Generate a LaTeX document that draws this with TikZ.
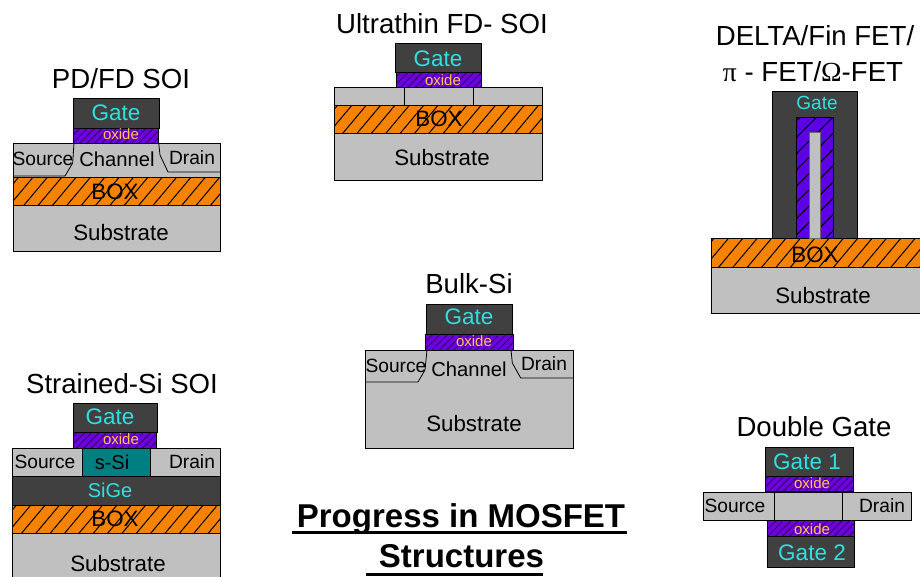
\documentclass[tikz,border=0pt]{standalone}
\usepackage{fontspec}
\setmainfont{Liberation Sans}
\newfontfamily\greekfont{Liberation Serif}
\usetikzlibrary{patterns.meta}
\newcommand{\fsz}[1]{\fontsize{#1}{#1}\selectfont}
\definecolor{gatedark}{HTML}{404040}
\definecolor{gatecyan}{HTML}{2FE0E0}
\definecolor{oxpurple}{HTML}{6E00E0}
\definecolor{oxyellow}{HTML}{FFC84A}
\definecolor{boxorange}{HTML}{F58200}
\definecolor{sigray}{HTML}{C0C0C0}
\definecolor{siteal}{HTML}{007F80}
\tikzset{
  every node/.style={inner sep=0pt},
  gatelayer/.style={draw=black,line width=.8pt,fill=gatedark},
  silayer/.style={draw=black,line width=.8pt,fill=sigray},
  oxlayer/.style={draw=black,line width=.8pt,preaction={fill=oxpurple},pattern={Lines[angle=45,distance=5.2pt,line width=.9pt]},pattern color=black!55!oxpurple},
  finox/.style={draw=black,line width=.8pt,preaction={fill=oxpurple!85!blue},pattern={Lines[angle=45,distance=11.5pt,line width=1pt]}},
  boxlayer/.style={draw=black,line width=.9pt,preaction={fill=boxorange},pattern={Lines[angle=50,distance=11pt,line width=1pt]}},
  junction/.style={draw=black,line width=.8pt},
  titletext/.style={font=\fsz{27.6}},
  headtext/.style={anchor=base,font=\bfseries\fsz{33}},
  headrule/.style={draw=black,line width=3pt},
  gatetext/.style={text=gatecyan,font=\fsz{22.5}},
  oxtext/.style={text=oxyellow,font=\fsz{15}},
  subtext/.style={font=\fsz{22.3}},
  sdtext/.style={font=\fsz{19.2}},
  chantext/.style={font=\fsz{20.2}},
}
\begin{document}
\begin{tikzpicture}[x=1pt,y=-1pt]
\useasboundingbox (0,0) rectangle (920,576);
\clip (0,0) rectangle (920,576);
% silicon and substrate
\foreach \xa/\xb/\ya/\yb in {13/220/143/177,13/220/205/251,334/542/87/105,334/542/133/180,711/925/267/313,365/573/350/448,12/220/448/476,12/220/533/585,703/911/492/520}
  \draw[silayer] (\xa,\ya) rectangle (\xb,\yb);
% buried oxide
\foreach \xa/\xb/\ya/\yb in {13/220/177/205,334/542/105/133,711/925/238/267,12/220/505/533}
  \draw[boxlayer] (\xa,\ya) rectangle (\xb,\yb);
% gates
\foreach \xa/\xb/\ya/\yb in {73/159/98/128,395/481/43/72,772/857/91/238,426/512/304/334,73/157/403/432,765/853/447/476,767/854/536/567}
  \draw[gatelayer] (\xa,\ya) rectangle (\xb,\yb);
% gate oxide
\foreach \xa/\xb/\ya/\yb in {73/158/128/143,396/481/72/87,425/513/334/350,73/156/432/448,765/853/476/491,767/854/520/536}
  \draw[oxlayer] (\xa,\ya) rectangle (\xb,\yb);
% fin
\draw[finox] (796,117) rectangle (833,238);
\draw[silayer,draw=black!60] (809,132) rectangle (820,238);
% strained layers
\draw[gatelayer] (12,476) rectangle (220,505);
\draw[draw=black,line width=.8pt,fill=siteal] (82,448) rectangle (150.5,476);
% source and drain junctions
\draw[junction] (74,143)--(72.7,163)--(65,176)--(13,176);
\draw[junction] (158.7,143)--(160,155)--(168,172)--(220,172);
\draw[junction] (427,350)--(425,370)--(418,382)--(365,382);
\draw[junction] (511,350)--(512.3,363)--(520.7,378)--(573,378);
\foreach \x/\ya/\yb in {404/87/105,473/87/105,774/492/520,842/492/520}
  \draw[junction] (\x,\ya)--(\x,\yb);
% titles
\node[titletext] (pdtitle) at (121,79) {PD/FD SOI};
\node[titletext] (uttitle) at (442,24) {Ultrathin FD- SOI};
\node[titletext] (fintitlea) at (815,36) {DELTA/Fin FET/};
\node[titletext] (fintitleb) at (813,72) {{\greekfont π} - FET/{\greekfont Ω}-FET};
\node[titletext] (bulktitle) at (469,284) {Bulk-Si};
\node[titletext] (sstitle) at (122,384) {Strained-Si SOI};
\node[titletext] (dgtitle) at (814,427) {Double Gate};
% gate and oxide labels
\foreach \n/\x/\y in {pd/116/113,ut/438/59,bulk/469/317,ss/110/417}
  \node[gatetext] (gate\n) at (\x,\y) {Gate};
\node[gatetext,font=\fsz{19}] (gatefin) at (817,103) {Gate};
\node[gatetext] (gatedga) at (807,462) {Gate 1};
\node[gatetext] (gatedgb) at (812,553) {Gate 2};
\foreach \n/\x/\y in {pd/121/134,ut/443/80,bulk/474/341,ss/121/439,dga/812/483,dgb/812/529}
  \node[oxtext] (ox\n) at (\x,\y) {oxide};
% layer labels
\foreach \n/\x/\y in {pd/115/192,ut/439/119,fin/815/255,ss/115/519}
  \node[subtext] (box\n) at (\x,\y) {BOX};
\foreach \n/\x/\y in {pd/121/233,ut/442/158,fin/823/296,bulk/474/424,ss/118/564}
  \node[subtext] (sub\n) at (\x,\y) {Substrate};
\foreach \n/\x/\y in {pd/43/159,bulk/396/366,ss/45/462,dg/735/506}
  \node[sdtext] (src\n) at (\x,\y) {Source};
\foreach \n/\x/\y in {pd/192/158,bulk/544/364,ss/192/462,dg/882/506}
  \node[sdtext] (drn\n) at (\x,\y) {Drain};
\node[chantext] (chanpd) at (117,159) {Channel};
\node[chantext] (chanbulk) at (469,369) {Channel};
\node[subtext,font=\fsz{20}] (ssi) at (112,462) {s-Si};
\node[gatetext,font=\fsz{20}] (sige) at (110,490) {SiGe};
% heading
\node[headtext] (heada) at (461,527) {Progress in MOSFET};
\node[headtext] (headb) at (461.5,567) {Structures};
\coordinate (ruleaw) at (292,532);
\coordinate (ruleae) at (627,532);
\coordinate (rulebw) at (366,574);
\coordinate (rulebe) at (543,574);
\draw[headrule] (ruleaw)--(ruleae);
\draw[headrule] (rulebw)--(rulebe);
\end{tikzpicture}
\end{document}
